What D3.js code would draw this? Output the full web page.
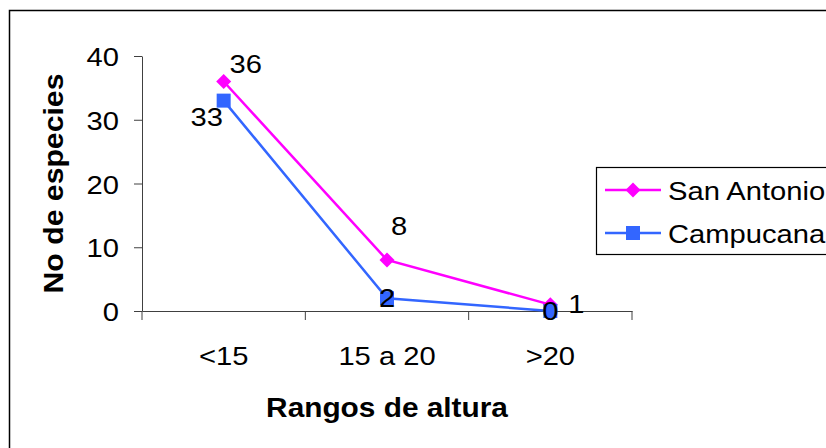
<!DOCTYPE html>
<html>
<head>
<meta charset="utf-8">
<script src="https://cdn.jsdelivr.net/npm/d3@7"></script>
<style>
  html, body { margin: 0; padding: 0; background: #fff; }
  svg { display: block; }
  text { font-family: "Liberation Sans", Arial, sans-serif; fill: #000; }
</style>
</head>
<body>
<svg id="chart" width="826" height="448"></svg>
<script>
// Height classes and species counts per site
const categories = ["<15", "15 a 20", ">20"];
const sanAntonio = [36, 8, 1];
const campucana = [33, 2, 0];
const seriesNames = ["San Antonio", "Campucana"];
const yTicks = [0, 10, 20, 30, 40];

// Hand-placed label nudges (dx, dy from the point, text centre / baseline)
const labelNudge = [
  [[22, -9], [12, -25], [26, 8.5]],
  [[-17, 25.5], [0, 9], [0, 9]]
];

const svg = d3.select("#chart");
const W = 826, H = 448;
const plot = { left: 142, right: 632, top: 56, bottom: 311 };
const FS = 26.5;      // regular text size
const SX = 1.1;       // horizontal widening of the glyphs

// widen glyphs about each text's own anchor point
function widen(sel, sx) {
  sel.each(function () {
    const t = d3.select(this);
    const tx = +t.attr("x") || 0, ty = +t.attr("y") || 0;
    t.attr("x", 0).attr("y", 0)
     .attr("transform", `translate(${tx},${ty}) scale(${sx},1)`);
  });
}

svg.append("rect").attr("width", W).attr("height", H).attr("fill", "#fff");
// outer chart-area frame, running off the right and bottom edges
svg.append("rect")
  .attr("x", 9.5).attr("y", 10.5).attr("width", 900).attr("height", 500)
  .attr("fill", "none").attr("stroke", "#000").attr("stroke-width", 1.5);

const x = d3.scaleBand().domain(categories).range([plot.left, plot.right]).padding(0);
const y = d3.scaleLinear().domain([0, 40]).range([plot.bottom, plot.top]);

const axisColor = "#404040";

// y axis
const yAxis = svg.append("g")
  .attr("transform", `translate(${plot.left},0)`)
  .call(d3.axisLeft(y).tickValues(yTicks).tickSize(8).tickSizeOuter(0).tickPadding(15));
yAxis.select(".domain").attr("stroke", axisColor).attr("stroke-width", 1);
yAxis.selectAll(".tick line").attr("stroke", axisColor);
yAxis.selectAll(".tick text").attr("font-size", FS).attr("font-family", null).attr("dy", "0.36em")
  .call(widen, SX);

// x axis: labels centred in each band, ticks on band edges
const xAxis = svg.append("g")
  .attr("transform", `translate(0,${plot.bottom})`)
  .call(d3.axisBottom(x).tickSize(0).tickSizeOuter(0).tickPadding(35));
xAxis.select(".domain").attr("stroke", axisColor).attr("stroke-width", 1);
xAxis.selectAll(".tick text").attr("font-size", FS).attr("font-family", null)
  .call(widen, SX);
const edges = categories.map(c => x(c)).concat([x.range()[1]]);
svg.append("g").selectAll("line").data(edges).join("line")
  .attr("x1", d => d).attr("x2", d => d)
  .attr("y1", plot.bottom).attr("y2", plot.bottom + 9)
  .attr("stroke", axisColor);

// axis titles
svg.append("text")
  .attr("x", 387).attr("y", 417)
  .attr("text-anchor", "middle").attr("font-size", 28).attr("font-weight", "bold")
  .text("Rangos de altura")
  .call(widen, 1.065);
svg.append("text")
  .attr("transform", `translate(63,${(plot.top + plot.bottom) / 2}) rotate(-90) scale(1.06,1)`)
  .attr("text-anchor", "middle").attr("font-size", 28.5).attr("font-weight", "bold")
  .text("No de especies");

// rotated-square marker for San Antonio, plain square for Campucana
const diamond = r => `M0,${-r}L${r},0L0,${r}L${-r},0Z`;
const square = h => `M${-h},${-h}H${h}V${h}H${-h}Z`;

const series = [
  { name: seriesNames[0], values: sanAntonio, color: "#FF00FF", marker: diamond(7.5) },
  { name: seriesNames[1], values: campucana, color: "#3366FF", marker: square(7) }
];

const cx = c => x(c) + x.bandwidth() / 2;
const line = d3.line().x((d, i) => cx(categories[i])).y(d => y(d));

series.forEach(s => {
  const g = svg.append("g");
  g.append("path").datum(s.values)
    .attr("d", line).attr("fill", "none")
    .attr("stroke", s.color).attr("stroke-width", 2.5);
  g.selectAll("path.m").data(s.values).join("path")
    .attr("class", "m")
    .attr("transform", (d, i) => `translate(${cx(categories[i])},${y(d)})`)
    .attr("d", s.marker)
    .attr("fill", s.color);
});

// data labels drawn after both series
series.forEach((s, si) => {
  svg.append("g").selectAll("text").data(s.values).join("text")
    .attr("x", (d, i) => cx(categories[i]) + labelNudge[si][i][0])
    .attr("y", (d, i) => y(d) + labelNudge[si][i][1])
    .attr("text-anchor", "middle").attr("font-size", FS)
    .text(d => d)
    .call(widen, SX);
});

// legend
const lg = svg.append("g");
lg.append("rect")
  .attr("x", 596.5).attr("y", 167.5).attr("width", 300).attr("height", 87)
  .attr("fill", "#fff").attr("stroke", "#000").attr("stroke-width", 1.2);
series.forEach((s, si) => {
  const ry = 190 + si * 43;
  lg.append("line").attr("x1", 605).attr("x2", 661).attr("y1", ry).attr("y2", ry)
    .attr("stroke", s.color).attr("stroke-width", 2.5);
  lg.append("path").attr("transform", `translate(633,${ry})`)
    .attr("d", s.marker).attr("fill", s.color);
  lg.append("text").attr("x", 668).attr("y", ry + 9.5).attr("font-size", FS).text(s.name)
    .call(widen, SX);
});
</script>
</body>
</html>
